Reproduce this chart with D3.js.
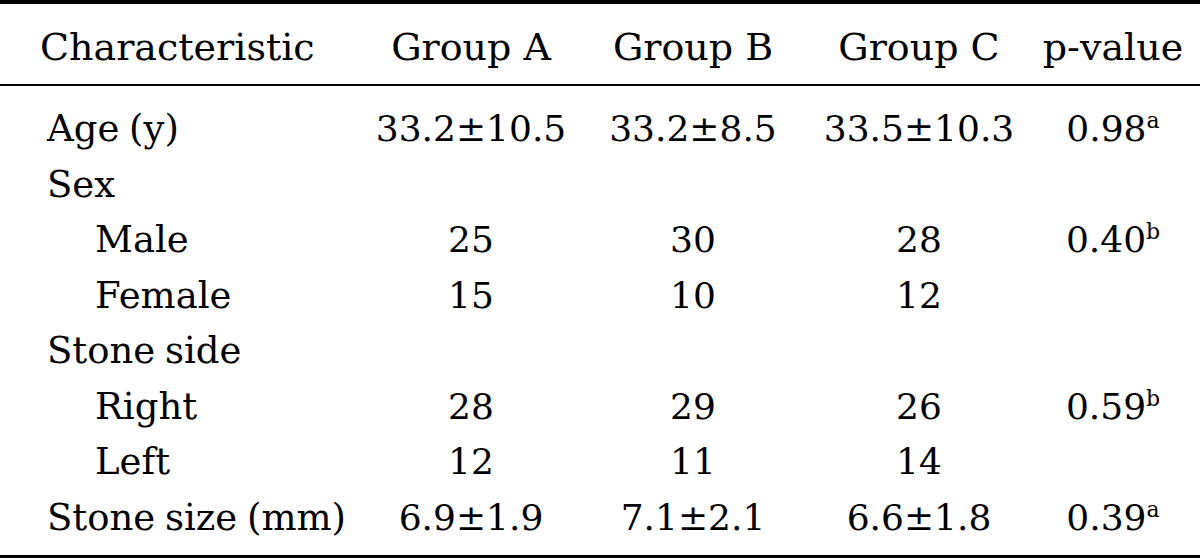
<!DOCTYPE html>
<html>
<head>
<meta charset="utf-8">
<script src="https://cdn.jsdelivr.net/npm/d3@7"></script>
<style>
  html, body { margin: 0; padding: 0; background: #fff; }
  svg text { font-family: "DejaVu Serif", "Liberation Serif", serif; fill: #000; }
</style>
</head>
<body>
<svg id="table"></svg>
<script>
// table content
const headers = ["Characteristic", "Group A", "Group B", "Group C", "p-value"];
const labels = ["Age (y)", "Sex", "Male", "Female", "Stone side", "Right", "Left", "Stone size (mm)"];
const indented = [false, false, true, true, false, true, true, false];
const groupA = ["33.2±10.5", "", "25", "15", "", "28", "12", "6.9±1.9"];
const groupB = ["33.2±8.5", "", "30", "10", "", "29", "11", "7.1±2.1"];
const groupC = ["33.5±10.3", "", "28", "12", "", "26", "14", "6.6±1.8"];
const pValues = ["0.98", "", "0.40", "", "", "0.59", "", "0.39"];
const pNotes = ["a", "", "b", "", "", "b", "", "a"];

const width = 1200, height = 558;
const headSize = 38, labelSize = 37, numSize = 36;

const svg = d3.select("#table")
  .attr("width", width)
  .attr("height", height);

// column centres (first column is left aligned)
const keys = ["label", "A", "B", "C", "p"];
const colX = d3.scaleOrdinal()
  .domain(keys)
  .range([47, 471, 693, 919, 1113]);

// row baselines
const rowY = d3.scalePoint()
  .domain(d3.range(labels.length))
  .range([141, 530]);

const headerY = 60;

// rules
svg.append("rect").attr("x", 0).attr("y", 0).attr("width", width).attr("height", 4);
svg.append("rect").attr("x", 0).attr("y", 84).attr("width", width).attr("height", 2);
svg.append("rect").attr("x", 0).attr("y", 555).attr("width", width).attr("height", 3);

// header
svg.append("g").selectAll("text")
  .data(headers)
  .join("text")
  .attr("x", (d, i) => i == 0 ? 40 : colX(keys[i]))
  .attr("y", headerY)
  .attr("text-anchor", (d, i) => i == 0 ? "start" : "middle")
  .style("font-size", headSize + "px")
  .text(d => d);

// label column
svg.append("g").selectAll("text")
  .data(labels)
  .join("text")
  .attr("x", (d, i) => colX("label") + (indented[i] ? 48 : 0))
  .attr("y", (d, i) => rowY(i))
  .style("font-size", labelSize + "px")
  .style("word-spacing", "-2px")
  .text(d => d);

// group columns
[["A", groupA], ["B", groupB], ["C", groupC]].forEach(([k, vals]) => {
  svg.append("g").selectAll("text")
    .data(vals)
    .join("text")
    .attr("x", colX(k))
    .attr("y", (d, i) => rowY(i))
    .attr("text-anchor", "middle")
    .style("font-size", numSize + "px")
    .text(d => d);
});

// p-values with superscript notes
const pt = svg.append("g").selectAll("text")
  .data(pValues)
  .join("text")
  .attr("x", colX("p"))
  .attr("y", (d, i) => rowY(i))
  .attr("text-anchor", "middle")
  .style("font-size", numSize + "px");
pt.append("tspan").text(d => d);
pt.append("tspan")
  .attr("dy", -13)
  .style("font-size", "22px")
  .text((d, i) => pNotes[i]);
</script>
</body>
</html>
